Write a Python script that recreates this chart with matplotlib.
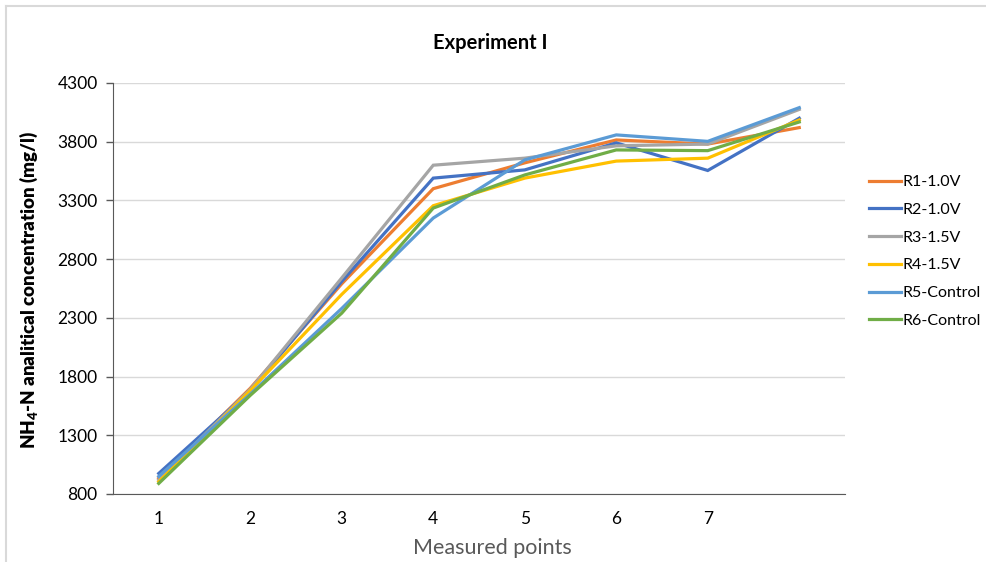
import matplotlib
matplotlib.use("Agg")
import matplotlib.pyplot as plt
from matplotlib.lines import Line2D

plt.rcParams['font.family'] = ['Lato', 'DejaVu Sans']
plt.rcParams['mathtext.fontset'] = 'custom'
plt.rcParams['mathtext.rm'] = 'Lato'
plt.rcParams['mathtext.bf'] = 'Lato:heavy'

# measured NH4-N concentrations per reactor
points = [1, 2, 3, 4, 5, 6, 7, 8]
point_labels = ['1', '2', '3', '4', '5', '6', '7', '']
r1 = [935, 1700, 2590, 3400, 3620, 3815, 3780, 3920]
r2 = [975, 1680, 2610, 3490, 3560, 3790, 3555, 4000]
r3 = [920, 1690, 2640, 3600, 3660, 3765, 3780, 4075]
r4 = [905, 1680, 2500, 3255, 3490, 3635, 3660, 3985]
r5 = [950, 1650, 2380, 3150, 3645, 3858, 3803, 4090]
r6 = [890, 1640, 2340, 3235, 3517, 3730, 3724, 3968]
series_names = ['R1-1.0V', 'R2-1.0V', 'R3-1.5V', 'R4-1.5V', 'R5-Control', 'R6-Control']
colors = ['#ED7D31', '#4472C4', '#A5A5A5', '#FFC000', '#5B9BD5', '#70AD47']
y_ticks = [800, 1300, 1800, 2300, 2800, 3300, 3800, 4300]

fig = plt.figure(figsize=(9.87, 5.62), dpi=100)
ax = fig.add_axes([113 / 987, 1 - 494 / 562, 732 / 987, 411 / 562])

for vals, name, c in zip([r1, r2, r3, r4, r5, r6], series_names, colors):
    ax.plot(points, vals, color=c, lw=2.3, label=name, solid_joinstyle='miter')

ax.set_xlim(0.5, 8.5)
ax.set_ylim(800, 4300)
ax.set_yticks(y_ticks)
ax.set_xticks(points)
ax.set_xticklabels(point_labels)
ax.tick_params(axis='x', length=0, labelsize=12.5, pad=12)
ax.tick_params(axis='y', length=5, width=1, color='#595959', labelsize=12.5, pad=6)
ax.grid(axis='y', color='#D9D9D9', lw=1)
ax.set_axisbelow(True)
for s in ['top', 'right']:
    ax.spines[s].set_visible(False)
ax.spines['left'].set_color('#595959')
ax.spines['bottom'].set_color('#595959')

fig.text(490 / 987, 1 - 43 / 562, 'Experiment I', ha='center', va='center',
         fontsize=14.5, fontweight='bold')
fig.text(492 / 987, 1 - 548 / 562, 'Measured points', ha='center', va='center',
         fontsize=15.5, color='#595959')
fig.text(29 / 987, 1 - 290 / 562, r'NH$_\mathbf{4}$-N analitical concentration (mg/l)',
         ha='center', va='center', rotation=90, fontsize=13.5, fontweight='heavy')

handles = [Line2D([], [], color=c, lw=2.3) for c in colors]
fig.legend(handles, series_names, loc='upper left', bbox_to_anchor=(869 / 987, 1 - 175 / 562),
           frameon=False, fontsize=11.5, handlelength=2.0, handletextpad=0.12,
           labelspacing=0.85, borderaxespad=0, borderpad=0)

# chart frame edges
fig.add_artist(Line2D([6 / 987, 1], [1 - 6 / 562, 1 - 6 / 562], color='#D9D9D9', lw=1.5))
fig.add_artist(Line2D([6 / 987, 6 / 987], [0, 1 - 6 / 562], color='#D9D9D9', lw=1.5))

fig.savefig('out.png', dpi=100)
